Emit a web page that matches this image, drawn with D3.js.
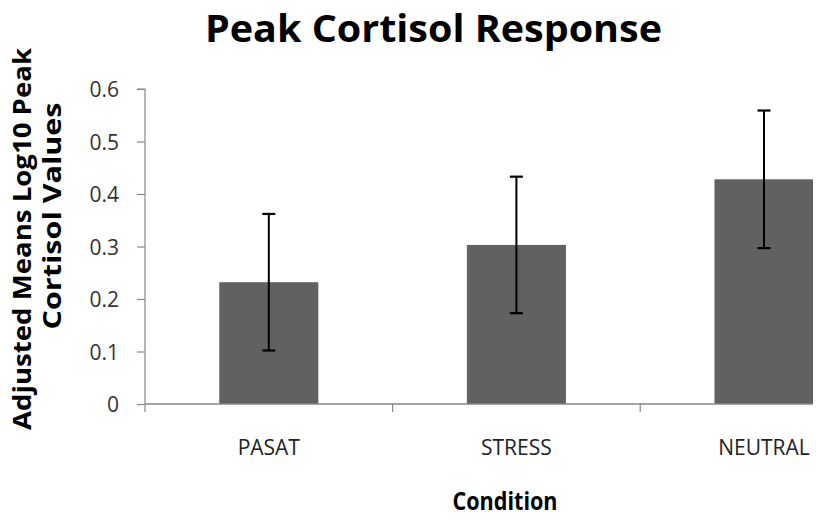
<!DOCTYPE html>
<html><head><meta charset="utf-8">
<script src="https://cdn.jsdelivr.net/npm/d3@7/dist/d3.min.js"></script>
<style>body{margin:0;background:#fff}svg{display:block}</style>
</head><body>
<svg id="c" width="816" height="521"></svg>
<script>
const categories = ["PASAT", "STRESS", "NEUTRAL"];
const means = [0.232, 0.303, 0.428];
const errors = [0.130, 0.130, 0.131];
const yTicks = [0, 0.1, 0.2, 0.3, 0.4, 0.5, 0.6];
const title = "Peak Cortisol Response";
const yLabel1 = "Adjusted Means Log10 Peak";
const yLabel2 = "Cortisol Values";
const xLabel = "Condition";

const svg = d3.select("#c");
const font = "'Open Sans', 'DejaVu Sans', sans-serif";
const mLeft = 145, mBottom = 404, mTop = 89;
const step = 247.6;
const x = d3.scaleBand().domain(categories).range([mLeft, mLeft + step * 3]).paddingInner(0.6).paddingOuter(0.3);
const y = d3.scaleLinear().domain([0, 0.6]).range([mBottom, mTop]);

svg.append("defs").append("clipPath").attr("id", "clip")
  .append("rect").attr("x", 0).attr("y", 0).attr("width", 813).attr("height", 521);

// Title
svg.append("text").attr("x", 433.5).attr("y", 42).attr("text-anchor", "middle")
  .attr("font-family", font).attr("font-weight", "bold").attr("font-size", 38)
  .attr("textLength", 457).attr("lengthAdjust", "spacingAndGlyphs").attr("fill", "#000").text(title);

// Y axis
const yAxis = svg.append("g").attr("transform", `translate(${mLeft},0)`)
  .call(d3.axisLeft(y).tickValues(yTicks).tickSize(8).tickPadding(18).tickFormat(d => d === 0 ? "0" : d3.format(".1f")(d)));
yAxis.selectAll("path,line").attr("stroke", "#868686").attr("stroke-width", 1.2);
yAxis.select(".domain").attr("d", `M-8,${mTop}H0V${mBottom}`);
yAxis.selectAll("text").attr("font-family", font).attr("font-size", 21).attr("fill", "#333").attr("dy", "0.36em");

// Bars
const g = svg.append("g").attr("clip-path", "url(#clip)");
g.selectAll("rect.bar").data(categories).join("rect").attr("class", "bar")
  .attr("x", d => x(d)).attr("width", x.bandwidth())
  .attr("y", (d, i) => y(means[i])).attr("height", (d, i) => y(0) - y(means[i]))
  .attr("fill", "#616161");

// X axis
const xg = svg.append("g").attr("clip-path", "url(#clip)");
xg.append("line").attr("x1", mLeft).attr("x2", mLeft + step * 3).attr("y1", mBottom).attr("y2", mBottom)
  .attr("stroke", "#868686").attr("stroke-width", 1.5);
xg.selectAll("line.tk").data(d3.range(4)).join("line").attr("class", "tk")
  .attr("x1", i => mLeft + i * step).attr("x2", i => mLeft + i * step)
  .attr("y1", mBottom).attr("y2", mBottom + 8).attr("stroke", "#868686").attr("stroke-width", 1.2);
const xAxis = svg.append("g").attr("transform", `translate(0,${mBottom})`)
  .call(d3.axisBottom(x).tickSize(0).tickPadding(0));
xAxis.select(".domain").remove();
xAxis.selectAll("text").attr("font-family", font).attr("font-size", 21).attr("fill", "#222")
  .attr("dy", 0).attr("y", 51);

// Error bars
const eb = svg.append("g");
categories.forEach((c, i) => {
  const cx = x(c) + x.bandwidth() / 2;
  const hi = y(means[i] + errors[i]), lo = y(means[i] - errors[i]);
  eb.append("line").attr("x1", cx).attr("x2", cx).attr("y1", hi).attr("y2", lo).attr("stroke", "#000").attr("stroke-width", 2);
  [hi, lo].forEach(yy => eb.append("line").attr("x1", cx - 6.5).attr("x2", cx + 6.5).attr("y1", yy).attr("y2", yy)
    .attr("stroke", "#000").attr("stroke-width", 2.2));
});

// Axis titles
svg.append("text").attr("x", 505).attr("y", 510).attr("text-anchor", "middle")
  .attr("font-family", font).attr("font-weight", "bold").attr("font-size", 25)
  .attr("textLength", 105).attr("lengthAdjust", "spacingAndGlyphs").text(xLabel);
svg.append("text").attr("transform", "translate(31,239) rotate(-90)").attr("text-anchor", "middle")
  .attr("font-family", font).attr("font-weight", "bold").attr("font-size", 25)
  .attr("textLength", 382).attr("lengthAdjust", "spacingAndGlyphs").text(yLabel1);
svg.append("text").attr("transform", "translate(61,216) rotate(-90)").attr("text-anchor", "middle")
  .attr("font-family", font).attr("font-weight", "bold").attr("font-size", 25)
  .attr("textLength", 227).attr("lengthAdjust", "spacingAndGlyphs").text(yLabel2);
</script>
</body></html>
